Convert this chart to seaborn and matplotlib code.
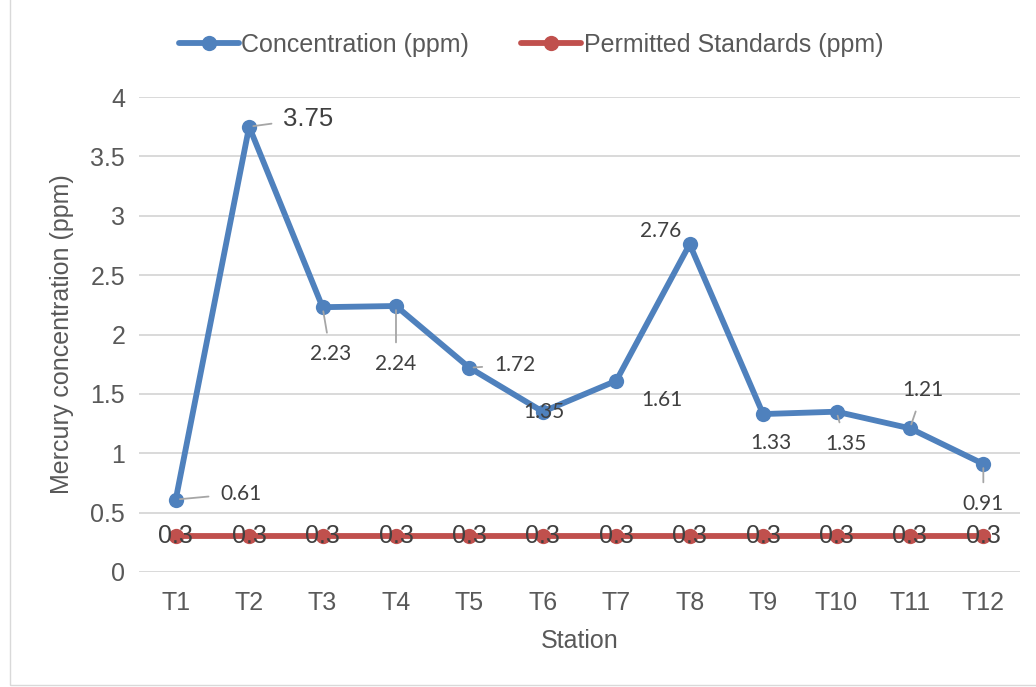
import numpy as np
import pandas as pd
import matplotlib.pyplot as plt
import seaborn as sns
from matplotlib.patches import Rectangle

# data
stations = ['T1', 'T2', 'T3', 'T4', 'T5', 'T6', 'T7', 'T8', 'T9', 'T10', 'T11', 'T12']
concentration = [0.61, 3.75, 2.23, 2.24, 1.72, 1.35, 1.61, 2.76, 1.33, 1.35, 1.21, 0.91]
permitted = [0.3] * 12

# label placement (pixels from the point) and whether Excel drew a leader line
label_offsets = [(65, 6), (59, 8), (8, -47), (0, -58), (45, 3), (1, 0),
                 (46, -19), (-29, 13), (8, -29), (9, -32), (13, 38), (0, -40)]
leaders = [True, True, True, True, True, False, False, False, False, True, True, True]

blue = '#4F81BD'
red = '#C0504D'
txt = '#404040'
tick_col = '#595959'

sns.set_style('white')
plt.rcParams['font.family'] = ['Liberation Sans', 'DejaVu Sans']

fig = plt.figure(figsize=(10.36, 6.87), dpi=100)
ax = fig.add_axes([0.1342, 0.1674, 0.8504, 0.6914])

df = pd.DataFrame({'Station': stations, 'Concentration (ppm)': concentration,
                   'Permitted Standards (ppm)': permitted})

sns.lineplot(data=df, x='Station', y='Concentration (ppm)', ax=ax, color=blue,
             linewidth=4.2, marker='o', markersize=11, markeredgewidth=0,
             label='Concentration (ppm)', zorder=3)
sns.lineplot(data=df, x='Station', y='Permitted Standards (ppm)', ax=ax, color=red,
             linewidth=4.2, marker='o', markersize=11, markeredgewidth=0,
             label='Permitted Standards (ppm)', zorder=3)

ax.set_xlim(-0.5, 11.5)
ax.set_ylim(0, 4)
ax.set_yticks(np.arange(0, 4.01, 0.5))
ax.set_yticklabels(['0', '0.5', '1', '1.5', '2', '2.5', '3', '3.5', '4'])
ax.grid(axis='y', color='#D9D9D9', linewidth=1.4)
ax.set_axisbelow(True)
for s in ax.spines.values():
    s.set_visible(False)
ax.tick_params(axis='both', length=0, labelsize=18, colors=tick_col)
ax.tick_params(axis='x', pad=14)
ax.tick_params(axis='y', pad=10)
ax.set_xlabel('Station', fontsize=18, color=tick_col, labelpad=10)
ax.set_ylabel('Mercury concentration (ppm)', fontsize=18, color=tick_col, labelpad=12)

# data labels for the concentration series
for i, (v, (dx, dy), lead) in enumerate(zip(concentration, label_offsets, leaders)):
    big = (i == 1)
    kw = dict(fontsize=18.5, family=['Liberation Sans']) if big else dict(fontsize=15, family=['Lato', 'DejaVu Sans'])
    arrow = dict(arrowstyle='-', color='#A6A6A6', lw=1.3, shrinkA=6, shrinkB=3) if lead else None
    ax.annotate(f'{v:g}', xy=(i, v), xytext=(dx, dy), textcoords='offset pixels',
                ha='center', va='center', color=txt, arrowprops=arrow, zorder=5, **kw)

# data labels for the standards line
for i, v in enumerate(permitted):
    ax.annotate(f'{v:g}', xy=(i, v), xytext=(0, 0), textcoords='offset pixels',
                ha='center', va='center', color=txt, fontsize=18, zorder=5,
                family=['Liberation Sans'])

ax.get_legend().remove()
handles, labels = ax.get_legend_handles_labels()
fig.legend(handles, labels, loc='center', bbox_to_anchor=(0.5125, 0.9345), ncol=2,
           frameon=False, fontsize=18, handlelength=2.4, handletextpad=0.1,
           columnspacing=2.1, borderpad=0, labelcolor=tick_col)

# chart area border
fig.patches.append(Rectangle((0.0097, 0.003), 0.995, 1.05, transform=fig.transFigure,
                             fill=False, edgecolor='#D9D9D9', linewidth=1))

fig.savefig('out.png', dpi=100)
